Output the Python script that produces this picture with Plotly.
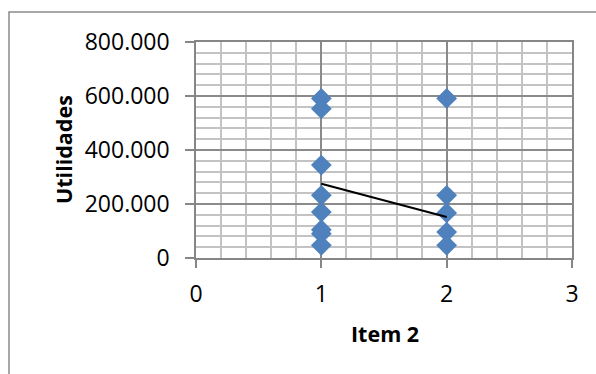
import plotly.graph_objects as go

# Observations: item 2 score vs. utilities
item2 = [1, 1, 1, 1, 1, 1, 1, 1, 2, 2, 2, 2, 2]
utilidades = [591000, 553000, 344000, 232000, 170000, 105000, 90000, 47000,
              591000, 232000, 167000, 96000, 47000]

# Linear trend line endpoints
trend_x = [1, 2]
trend_y = [275000, 152000]

x_ticks = [0, 1, 2, 3]
y_ticks = [0, 200000, 400000, 600000, 800000]

FONT = "Open Sans"
W, H = 596, 374
L, R, T, B = 196, 24, 42, 116
pw, ph = W - L - R, H - T - B

fig = go.Figure()
fig.add_trace(go.Scatter(
    x=item2, y=utilidades, mode="markers",
    marker=dict(symbol="diamond", size=16, color="#4F81BD", line=dict(width=0)),
    showlegend=False, cliponaxis=False,
))
fig.add_trace(go.Scatter(
    x=trend_x, y=trend_y, mode="lines",
    line=dict(color="black", width=2), showlegend=False,
))

axis_common = dict(
    showline=True, mirror=True, linecolor="#868686", linewidth=1.5,
    ticks="outside", tickcolor="#868686", tickwidth=1.5,
    showgrid=True, gridcolor="#8a8a8a", gridwidth=1.5,
    zeroline=False, tickfont=dict(family=FONT, size=23, color="black"),
)

fig.update_xaxes(
    range=[0, 3], tickvals=x_ticks, ticklen=8, ticklabelstandoff=7,
    minor=dict(dtick=0.2, tick0=0, showgrid=True, gridcolor="#c3c3c3",
               gridwidth=1.5, ticks=""),
    **axis_common,
)
fig.update_yaxes(
    range=[0, 800000], tickvals=y_ticks, tickformat=",d", ticklen=9,
    ticklabelstandoff=11,
    minor=dict(dtick=40000, tick0=0, showgrid=True, gridcolor="#c3c3c3",
               gridwidth=1.5, ticks=""),
    **axis_common,
)

def px_x(p):
    return (p - L) / pw

def px_y(p):
    return (H - B - p) / ph

fig.add_annotation(
    text="<b>Utilidades</b>", textangle=-90, showarrow=False,
    xref="paper", yref="paper", x=px_x(63), y=px_y(150),
    xanchor="center", yanchor="middle",
    font=dict(family=FONT, size=21.5, color="black"),
)
fig.add_annotation(
    text="<b>Item 2</b>", showarrow=False,
    xref="paper", yref="paper", x=px_x(385), y=px_y(333),
    xanchor="center", yanchor="middle",
    font=dict(family=FONT, size=21.5, color="black"),
)

# Chart frame (top and left edges visible)
fig.add_shape(
    type="rect", xref="paper", yref="paper",
    x0=px_x(9), x1=px_x(W + 20), y0=px_y(12), y1=px_y(H + 20),
    line=dict(color="#8a8a8a", width=1.5), layer="below",
)

fig.update_layout(
    width=W, height=H, autosize=False,
    margin=dict(l=L, r=R, t=T, b=B),
    paper_bgcolor="white", plot_bgcolor="white",
    separators=",.",
)

fig.write_html("out.html")
